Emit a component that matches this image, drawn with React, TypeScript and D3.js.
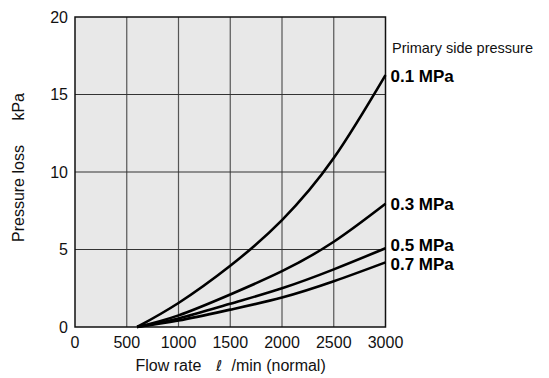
import React from "react";
import * as d3 from "d3";

const flowRates = [600, 1000, 1500, 2000, 2500, 3000];
const loss01 = [0, 1.55, 3.95, 6.9, 10.9, 16.25];
const loss03 = [0, 0.75, 2.1, 3.6, 5.5, 7.95];
const loss05 = [0, 0.55, 1.5, 2.5, 3.72, 5.08];
const loss07 = [0, 0.42, 1.12, 1.9, 2.95, 4.17];
const seriesLabels = ["0.1 MPa", "0.3 MPa", "0.5 MPa", "0.7 MPa"];
const xTicks = [0, 500, 1000, 1500, 2000, 2500, 3000];
const yTicks = [0, 5, 10, 15, 20];

const W = 549;
const H = 378;
const left = 75;
const right = 385.5;
const top = 17;
const bottom = 327;

export default function App() {
  const x = d3.scaleLinear().domain([0, 3000]).range([left, right]);
  const y = d3.scaleLinear().domain([0, 20]).range([bottom, top]);
  const series = [loss01, loss03, loss05, loss07];
  const line = d3
    .line<[number, number]>()
    .x((d) => x(d[0]))
    .y((d) => y(d[1]))
    .curve(d3.curveNatural);
  const labelBaselines = [82, 210, 250.8, 270];
  const font = "'Liberation Sans', Arial, Helvetica, sans-serif";

  return (
    <svg
      width={W}
      height={H}
      viewBox={`0 0 ${W} ${H}`}
      style={{ position: "absolute", left: 0, top: 0, background: "#fff" }}
      fontFamily={font}
    >
      <rect x={left} y={top} width={right - left} height={bottom - top} fill="#e8e8e8" />
      {xTicks.slice(1, -1).map((t) => (
        <line key={"vx" + t} x1={x(t)} x2={x(t)} y1={top} y2={bottom} stroke="#555" strokeWidth={1.2} />
      ))}
      {yTicks.slice(1, -1).map((t) => (
        <line key={"hy" + t} x1={left} x2={right} y1={y(t)} y2={y(t)} stroke="#333" strokeWidth={1.2} />
      ))}
      <rect x={left} y={top} width={right - left} height={bottom - top} fill="none" stroke="#111" strokeWidth={1.5} />
      {series.map((s, i) => (
        <path
          key={"s" + i}
          d={line(flowRates.map((f, j) => [f, s[j]] as [number, number])) || ""}
          fill="none"
          stroke="#000"
          strokeWidth={2.6}
        />
      ))}
      {xTicks.map((t) => (
        <text key={"xt" + t} x={x(t)} y={348} textAnchor="middle" fontSize={16} fill="#111">
          {t}
        </text>
      ))}
      {yTicks.map((t) => (
        <text key={"yt" + t} x={68} y={y(t)} dy="0.35em" textAnchor="end" fontSize={16} fill="#111">
          {t}
        </text>
      ))}
      <text y={371} fontSize={16} fill="#111">
        <tspan x={135.5}>Flow rate</tspan>
        <tspan x={216} fontFamily="'DejaVu Sans', sans-serif" fontStyle="italic" fontSize={15}>ℓ</tspan>
        <tspan x={231.5}>/min (normal)</tspan>
      </text>
      <g transform="translate(24,0) rotate(-90)">
        <text x={-242} y={0} fontSize={16} fill="#111">Pressure loss</text>
        <text x={-93} y={0} textAnchor="end" fontSize={16} fill="#111">kPa</text>
      </g>
      <text x={392} y={53} fontSize={14.5} fill="#111">Primary side pressure</text>
      {seriesLabels.map((l, i) => (
        <text key={l} x={390.5} y={labelBaselines[i]} fontSize={17} fontWeight="bold" fill="#000">
          {l}
        </text>
      ))}
    </svg>
  );
}
